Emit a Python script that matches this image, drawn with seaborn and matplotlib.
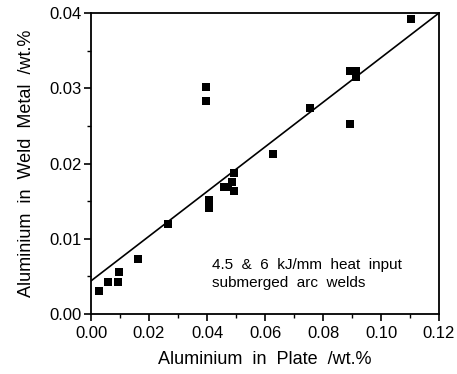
import matplotlib
matplotlib.use("Agg")
import matplotlib.pyplot as plt
import seaborn as sns
import pandas as pd
from matplotlib.ticker import MultipleLocator, FormatStrFormatter

sns.set_theme(style="white")
plt.rcParams['font.family'] = ['Liberation Sans', 'DejaVu Sans']

plate_al = [0.0029, 0.0057, 0.0092, 0.0095, 0.0163, 0.0267, 0.0397, 0.0397,
            0.0406, 0.0406, 0.0460, 0.0471, 0.0485, 0.0492, 0.0493, 0.0626,
            0.0755, 0.0893, 0.0893, 0.0914, 0.0914, 0.1105]
weld_al = [0.0030, 0.0043, 0.0043, 0.0056, 0.0073, 0.0120, 0.0301, 0.0283,
           0.0151, 0.0141, 0.0169, 0.0169, 0.0176, 0.0187, 0.0163, 0.0213,
           0.0274, 0.0323, 0.0253, 0.0323, 0.0315, 0.0392]
fit_x = [0.0, 0.12]
fit_y = [0.0044, 0.04]
note_lines = ["4.5  &  6  kJ/mm  heat  input", "submerged  arc  welds"]

df = pd.DataFrame({"plate": plate_al, "weld": weld_al})
fit = pd.DataFrame({"x": fit_x, "y": fit_y})

fig = plt.figure(figsize=(4.57, 3.74), dpi=100)
ax = fig.add_axes([91/457, 1-314/374, (439-91)/457, (314-13)/374])

sns.lineplot(data=fit, x="x", y="y", ax=ax, color="black", linewidth=1.2)
sns.scatterplot(data=df, x="plate", y="weld", ax=ax, marker="s", color="black",
                s=34, edgecolor="black", linewidth=0, zorder=3)

ax.set_xlim(0, 0.12)
ax.set_ylim(0, 0.04)
ax.xaxis.set_major_locator(MultipleLocator(0.02))
ax.xaxis.set_minor_locator(MultipleLocator(0.01))
ax.yaxis.set_major_locator(MultipleLocator(0.01))
ax.yaxis.set_minor_locator(MultipleLocator(0.005))
ax.xaxis.set_major_formatter(FormatStrFormatter('%.2f'))
ax.yaxis.set_major_formatter(FormatStrFormatter('%.2f'))
ax.tick_params(axis='both', which='major', direction='out', length=5, width=1.2,
               labelsize=12, color='black', labelcolor='black',
               bottom=True, left=True, top=False, right=False)
ax.tick_params(axis='x', which='major', pad=4)
ax.tick_params(axis='y', which='major', pad=2)
ax.tick_params(axis='both', which='minor', direction='out', length=3, width=1.0,
               color='black', bottom=True, left=True, top=False, right=False)
for sp in ax.spines.values():
    sp.set_color('black')
    sp.set_linewidth(1.3)

ax.set_xlabel("Aluminium  in  Plate  /wt.%", fontsize=13, labelpad=7, color='black')
ax.set_ylabel("Aluminium  in  Weld  Metal  /wt.%", fontsize=13, labelpad=10, color='black')

ax.text(0.0417, 0.0060, note_lines[0], fontsize=11, color='black',
        va='baseline', ha='left')
ax.text(0.0417, 0.0036, note_lines[1], fontsize=11, color='black',
        va='baseline', ha='left')

fig.savefig("out.png", dpi=100)
